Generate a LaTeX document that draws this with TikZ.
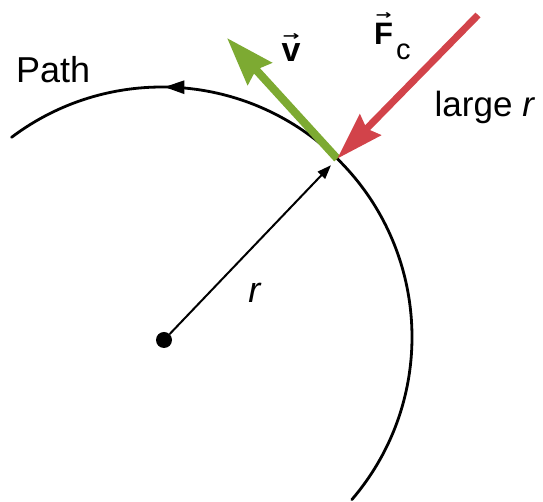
\documentclass[tikz,border=0pt]{standalone}
\usepackage{graphicx}
\usepackage{fontspec}
\setmainfont{Liberation Sans}
\newfontfamily\arrfont{DejaVu Sans}
\newcommand\ovarrow[2]{\leavevmode\vbox{\offinterlineskip\halign{\hfil##\hfil\cr\resizebox{#1}{7pt}{\arrfont →}\cr\noalign{\kern 4pt}\hbox{#2}\cr}}}
\usetikzlibrary{arrows.meta,decorations.markings,calc}
\definecolor{vgreen}{RGB}{125,170,50}
\definecolor{fred}{RGB}{210,67,74}
\begin{document}
\begin{tikzpicture}[x=1pt,y=1pt,
  lbl/.style={inner sep=0pt,font=\fontsize{34}{40}\selectfont},
  patharc/.style={line width=2.8pt,line cap=round},
  radline/.style={line width=2pt,-{Triangle[length=14pt,width=10pt]},shorten >=9pt},
  vecarrow/.style={line width=8pt,vgreen,-{Stealth[length=48pt,width=32pt,inset=5pt]}},
  forcearrow/.style={line width=7pt,fred,-{Stealth[length=47pt,width=29pt,inset=5pt]}},
  dotstyle/.style={circle,fill=black,inner sep=0pt,minimum size=16pt}]
\useasboundingbox (0,0) rectangle (543,502);
\coordinate (O) at (162,165);
\coordinate (P) at ($(O)+(45.5:250)$);
\node[dotstyle] (D) at (164,162) {};
\coordinate (Ftail) at (478,487);
\coordinate (Vtip) at (227,464);
% path arc
\draw[patharc,postaction={decorate},
  decoration={markings,mark=at position 0.776 with {\arrow{Triangle[length=20pt,width=13pt]}}}]
  ($(O)+(-40.6:250)$) arc[start angle=-40.6,end angle=127,radius=250];
% radius
\draw[radline] (D) -- (P);
% velocity
\draw[vecarrow] (P) -- (Vtip);
% force
\draw[forcearrow] (Ftail) -- (P);
% labels
\node[lbl,anchor=base west,font=\fontsize{36}{40}\selectfont] (path) at (16,419) {Path};
\node[lbl,anchor=base,font=\fontsize{34}{40}\selectfont\bfseries] (v) at (291,440) {\ovarrow{17pt}{v}};
\node[lbl,anchor=base west,font=\fontsize{31}{36}\selectfont\bfseries] (F) at (374,457) {\ovarrow{16pt}{F}};
\node[lbl,anchor=base west,font=\fontsize{29}{34}\selectfont] (c) at (396,442) {c};
\node[lbl,anchor=base west,font=\fontsize{35}{40}\selectfont] (large) at (434.5,385) {large \textit{r}};
\node[lbl,anchor=base,font=\fontsize{36}{40}\selectfont] (r) at (255,199) {\textit{r}};
\end{tikzpicture}
\end{document}
